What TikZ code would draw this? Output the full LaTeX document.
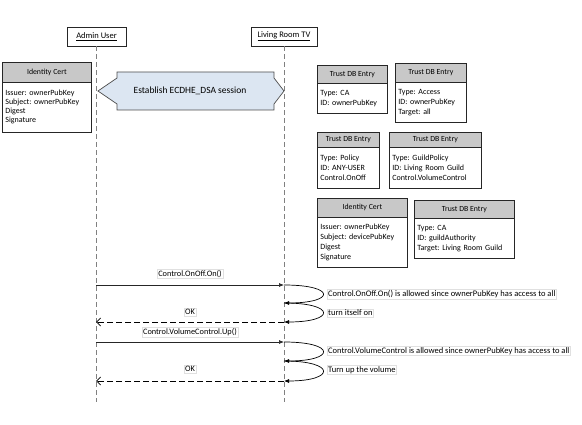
\documentclass[tikz,border=0pt]{standalone}
\usepackage{fontspec}
\setmainfont{Carlito}
\frenchspacing
\usetikzlibrary{arrows.meta}

\definecolor{sessionfill}{HTML}{DCE6F2}
\definecolor{headfill}{HTML}{C8C8C8}

\tikzset{
  lifehead/.style={draw=black!85, fill=white, line width=0.7pt, minimum width=59pt,
    minimum height=19pt, inner sep=0pt, font=\fontsize{8.5}{10}\selectfont},
  lifeline/.style={draw=black!50, line width=0.9pt, dash pattern=on 5pt off 3pt},
  tblhead/.style={draw=black!85, fill=headfill, line width=0.7pt, anchor=north west,
    inner sep=0pt, font=\fontsize{7.8}{9}\selectfont},
  tblbody/.style={draw=black!85, fill=white, line width=0.7pt, anchor=north west,
    inner ysep=0pt, inner xsep=3pt, align=left, font=\fontsize{8}{9.8}\selectfont},
  msg/.style={draw=black!85, line width=0.7pt, -{Latex[length=5pt,width=4pt]}},
  reply/.style={draw=black, line width=0.8pt, dash pattern=on 6pt off 3pt,
    -{Straight Barb[length=4pt,width=8pt]}},
  selfcall/.style={draw=black, line width=0.7pt, -{Latex[length=5pt,width=4pt]}},
  msglabel/.style={draw=black!12, fill=white, inner sep=1pt, font=\fontsize{8.3}{9}\selectfont},
  notelabel/.style={msglabel, anchor=west, font=\fontsize{8.5}{9}\selectfont},
  session/.style={draw=black!70, fill=sessionfill, line width=0.7pt},
}

\begin{document}
\begin{tikzpicture}[x=1pt, y=-1pt]
\useasboundingbox (0,0) rectangle (582,425);

% participants and their lifelines
\node[lifehead] (admin) at (96.5,36.5) {\underline{Admin User}};
\node[lifehead, minimum width=66pt] (tv) at (284,36.5) {\underline{Living Room TV}};
\coordinate (adminEnd) at (96,402);
\coordinate (tvEnd) at (284,402);
\draw[lifeline] (admin.south -| adminEnd) -- (adminEnd);
\draw[lifeline] (tv.south -| tvEnd) -- (tvEnd);

% secure session between both parties
\draw[session] (117,72) -- (117,78) -- (98,91) -- (117,104) -- (117,110)
  -- (274,110) -- (274,104) -- (284,91) -- (274,78) -- (274,72) -- cycle;
\node[font=\fontsize{9.5}{11}\selectfont] (sess) at (190,91) {Establish ECDHE\_DSA session};

% admin identity certificate
\node[tblhead, minimum width=89pt, minimum height=20pt] (certAh) at (2,62) {Identity Cert};
\node[tblbody, text width=83pt, minimum height=50pt, font=\fontsize{8}{9}\selectfont] (certAb) at (2,82)
  {Issuer: ownerPubKey\\Subject: ownerPubKey\\Digest\\Signature};

% trust database of the TV
\node[tblhead, minimum width=70pt, minimum height=18pt] (caH) at (317,65) {Trust DB Entry};
\node[tblbody, text width=64pt, minimum height=30pt] (caB) at (317,83)
  {Type: CA\\ID: ownerPubKey};

\node[tblhead, minimum width=71pt, minimum height=19pt] (accH) at (395,63) {Trust DB Entry};
\node[tblbody, text width=65pt, minimum height=40pt] (accB) at (395,82)
  {Type: Access\\ID: ownerPubKey\\Target: all};

\node[tblhead, minimum width=62pt, minimum height=15pt] (polH) at (317,132) {Trust DB Entry};
\node[tblbody, text width=56pt, minimum height=41pt] (polB) at (317,147)
  {Type: Policy\\ID: ANY-USER\\Control.OnOff};

\node[tblhead, minimum width=92pt, minimum height=15pt] (gpH) at (389,132) {Trust DB Entry};
\node[tblbody, text width=86pt, minimum height=41pt] (gpB) at (389,147)
  {Type: GuildPolicy\\ID: Living Room Guild\\Control.VolumeControl};

\node[tblhead, minimum width=90pt, minimum height=19pt] (certBh) at (317,198) {Identity Cert};
\node[tblbody, text width=84pt, minimum height=50pt] (certBb) at (317,217)
  {Issuer: ownerPubKey\\Subject: devicePubKey\\Digest\\Signature};

\node[tblhead, minimum width=100pt, minimum height=18pt] (gaH) at (414,200) {Trust DB Entry};
\node[tblbody, text width=94pt, minimum height=40pt] (gaB) at (414,218)
  {Type: CA\\ID: guildAuthority\\Target: Living Room Guild};

% message anchor points on the lifelines
\coordinate (a1) at (96,285);  \coordinate (t1) at (284,285);
\coordinate (t2) at (284,303); \coordinate (t3) at (284,322);
\coordinate (a3) at (96,322);
\coordinate (a4) at (96,342);  \coordinate (t4) at (284,342);
\coordinate (t5) at (284,361); \coordinate (t6) at (284,381);
\coordinate (a6) at (96,381);

% first request
\draw[msg] (a1) -- (t1);
\node[msglabel] (m1) at (190,274) {Control.OnOff.On()};
\draw[selfcall] (t1) .. controls (336,285) and (336,303) .. (t2);
\draw[selfcall] (t2) .. controls (336,303) and (336,322) .. (t3);
\node[notelabel] (n1) at (327,294) {Control.OnOff.On() is allowed since ownerPubKey has access to all};
\node[notelabel] (n2) at (327,313) {turn itself on};
\draw[reply] (t3) -- (a3);
\node[msglabel] (r1) at (190,312) {OK};

% second request
\node[msglabel] (m2) at (190,332) {Control.VolumeControl.Up()};
\draw[msg] (a4) -- (t4);
\draw[selfcall] (t4) .. controls (336,342) and (336,361) .. (t5);
\draw[selfcall] (t5) .. controls (336,361) and (336,381) .. (t6);
\node[notelabel] (n3) at (327,351) {Control.VolumeControl is allowed since ownerPubKey has access to all};
\node[notelabel] (n4) at (327,370) {Turn up the volume};
\draw[reply] (t6) -- (a6);
\node[msglabel] (r2) at (190,369) {OK};
\end{tikzpicture}
\end{document}
